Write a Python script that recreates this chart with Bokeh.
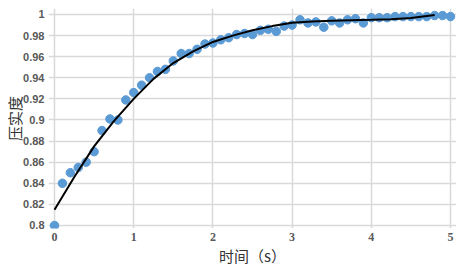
from bokeh.plotting import figure
from bokeh.models import FixedTicker, Range1d
from bokeh.embed import file_html
from bokeh.resources import INLINE

# measured data (time in s, compaction degree)
t = [0.0, 0.1, 0.2, 0.3, 0.4, 0.5, 0.6, 0.7, 0.8, 0.9,
     1.0, 1.1, 1.2, 1.3, 1.4, 1.5, 1.6, 1.7, 1.8, 1.9,
     2.0, 2.1, 2.2, 2.3, 2.4, 2.5, 2.6, 2.7, 2.8, 2.9,
     3.0, 3.1, 3.2, 3.3, 3.4, 3.5, 3.6, 3.7, 3.8, 3.9,
     4.0, 4.1, 4.2, 4.3, 4.4, 4.5, 4.6, 4.7, 4.8, 4.9, 5.0]
compaction = [0.800, 0.840, 0.850, 0.855, 0.860, 0.870, 0.890, 0.901, 0.900, 0.919,
              0.926, 0.933, 0.940, 0.946, 0.948, 0.956, 0.963, 0.963, 0.967, 0.972,
              0.973, 0.976, 0.978, 0.981, 0.982, 0.981, 0.985, 0.986, 0.984, 0.989,
              0.990, 0.995, 0.992, 0.993, 0.988, 0.994, 0.992, 0.995, 0.996, 0.992,
              0.997, 0.997, 0.997, 0.998, 0.998, 0.998, 0.998, 0.998, 0.999, 0.999, 0.998]

# fitted trend curve
fit_t = [0.0, 0.25, 0.5, 0.75, 1.0, 1.25, 1.5, 1.75, 2.0, 2.25, 2.5, 2.75,
         3.0, 3.25, 3.5, 3.75, 4.0, 4.25, 4.5, 4.8]
fit_y = [0.815, 0.846, 0.875, 0.899, 0.920, 0.939, 0.954, 0.965, 0.974, 0.980,
         0.985, 0.989, 0.9922, 0.9934, 0.994, 0.9945, 0.995, 0.9956, 0.9967, 0.9995]

x_ticks = [0, 1, 2, 3, 4, 5]
y_ticks = [0.8, 0.82, 0.84, 0.86, 0.88, 0.9, 0.92, 0.94, 0.96, 0.98, 1.0]
y_tick_labels = ["0.8", "0.82", "0.84", "0.86", "0.88", "0.9", "0.92", "0.94", "0.96", "0.98", "1"]
x_title = "时间（s）"
y_title = "压实度"

p = figure(output_backend="svg", toolbar_location=None,
           frame_width=408, frame_height=220,
           x_range=Range1d(-0.07576, 5.07576), y_range=Range1d(0.797156, 1.005687),
           min_border_left=48, min_border_right=0, min_border_top=8, min_border_bottom=30)
p.outline_line_color = None
p.background_fill_color = "white"
p.border_fill_color = "white"

grid_color = "#d9d9d9"
p.xgrid.ticker = FixedTicker(ticks=x_ticks)
p.ygrid.ticker = FixedTicker(ticks=y_ticks)
p.xgrid.grid_line_color = grid_color
p.ygrid.grid_line_color = grid_color
p.xgrid.grid_line_width = 1.5
p.ygrid.grid_line_width = 1.5

p.xaxis.ticker = FixedTicker(ticks=x_ticks)
p.yaxis.ticker = FixedTicker(ticks=y_ticks)
p.yaxis.major_label_overrides = {v: s for v, s in zip(y_ticks, y_tick_labels)}
for ax in (p.xaxis, p.yaxis):
    ax.axis_line_color = None
    ax.major_tick_line_color = None
    ax.minor_tick_line_color = None
    ax.major_tick_out = 0
    ax.major_tick_in = 0
    ax.minor_tick_out = 0

p.yaxis.major_label_text_font = "Liberation Sans"
p.yaxis.major_label_text_font_style = "bold"
p.yaxis.major_label_text_font_size = "11px"
p.yaxis.major_label_text_color = "#595959"
p.yaxis.major_label_standoff = 4
p.yaxis.axis_label = y_title
p.yaxis.axis_label_text_font = "Noto Sans CJK SC"
p.yaxis.axis_label_text_font_style = "normal"
p.yaxis.axis_label_text_font_size = "15px"
p.yaxis.axis_label_text_color = "#333333"
p.yaxis.axis_label_standoff = -5

p.xaxis.major_label_text_font = "Liberation Serif"
p.xaxis.major_label_text_font_style = "bold"
p.xaxis.major_label_text_font_size = "12px"
p.xaxis.major_label_text_color = "#595959"
p.xaxis.major_label_standoff = 4
p.xaxis.axis_label = x_title
p.xaxis.axis_label_text_font = "Noto Sans CJK SC"
p.xaxis.axis_label_text_font_style = "normal"
p.xaxis.axis_label_text_font_size = "15px"
p.xaxis.axis_label_text_color = "#333333"
p.xaxis.axis_label_standoff = 1

p.scatter(t, compaction, size=8.5, fill_color="#5b9bd5", line_color="#5b9bd5")
p.line(fit_t, fit_y, line_color="black", line_width=2)

open("out.html", "w").write(file_html(p, INLINE))
